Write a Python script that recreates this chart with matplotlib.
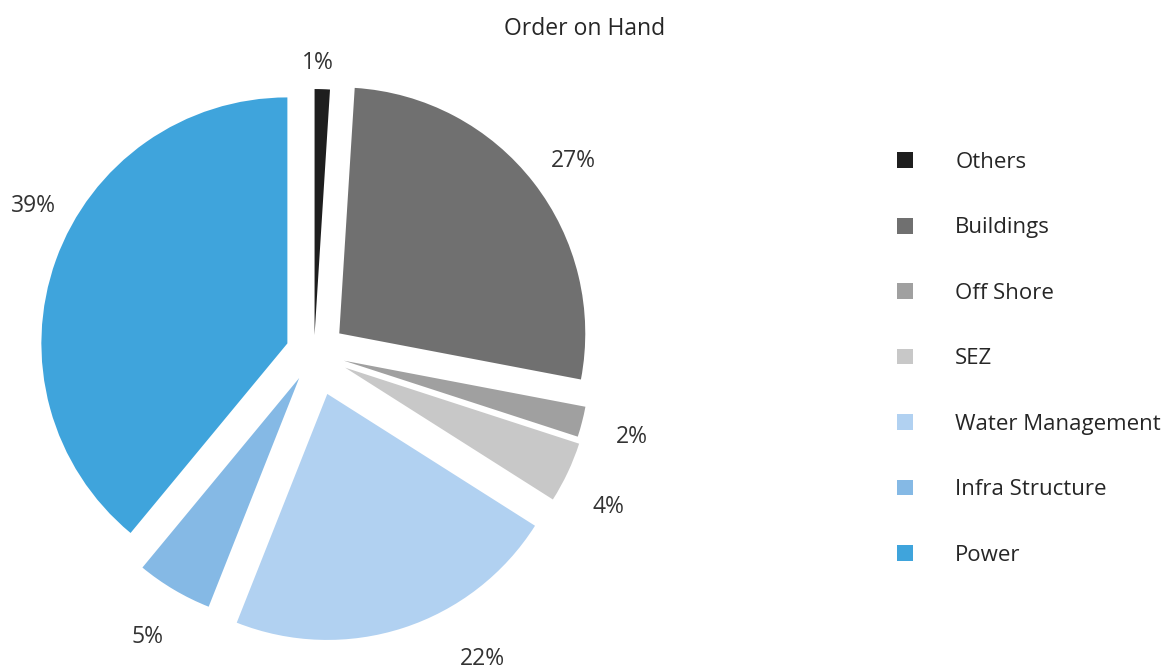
import numpy as np
import matplotlib.pyplot as plt

plt.rcParams['font.family'] = ['Open Sans', 'DejaVu Sans']

# data
labels = ['Others', 'Buildings', 'Off Shore', 'SEZ', 'Water Management',
          'Infra Structure', 'Power']
shares = [1, 27, 2, 4, 22, 5, 39]
colors = ['#1e1e1e', '#707070', '#a0a0a0', '#c8c8c8', '#b1d1f1',
          '#85b9e5', '#3fa4dc']
explode = [0.073, 0.13, 0.125, 0.14, 0.175, 0.118, 0.115]
# where Excel put the % labels (angle in degrees, distance in radii from the centre)
label_pos = [(89.2, 1.19), (36.9, 1.32), (-14.3, 1.333), (-27.1, 1.346),
             (-60.9, 1.41), (-120.7, 1.329), (151.9, 1.295)]

W, H = 1163, 670
fig = plt.figure(figsize=(W / 100, H / 100), dpi=100)

# pie centre ~ (314, 353) px, radius ~246 px
cx, cy, R = 314, 353, 246
lim = 1.4
S = 2 * lim * R
ax = fig.add_axes([(cx - S / 2) / W, (H - cy - S / 2) / H, S / W, S / H])

wedges, texts = ax.pie(shares, colors=colors, startangle=90, counterclock=False,
                       explode=explode,
                       labels=['%d%%' % s for s in shares],
                       textprops=dict(fontsize=16.5, color='#333333'),
                       wedgeprops=dict(linewidth=0))
for t, (ang, d) in zip(texts, label_pos):
    a = np.deg2rad(ang)
    t.set_position((d * np.cos(a), d * np.sin(a)))
    t.set_ha('center')
    t.set_va('center_baseline')

ax.set_xlim(-lim, lim)
ax.set_ylim(-lim, lim)
ax.set_aspect('equal')
ax.axis('off')

fig.text(585 / W, 1 - 26 / H, 'Order on Hand', ha='center', va='center_baseline',
         fontsize=16.5, color='#262626')

fig.legend(wedges, labels, loc='upper left',
           bbox_to_anchor=(897 / W, 1 - 152 / H), frameon=False,
           fontsize=16, handlelength=0.72, handleheight=0.72,
           handletextpad=1.9, labelspacing=2.0, borderpad=0,
           borderaxespad=0, labelcolor='#262626')

fig.savefig('out.png', dpi=100)
